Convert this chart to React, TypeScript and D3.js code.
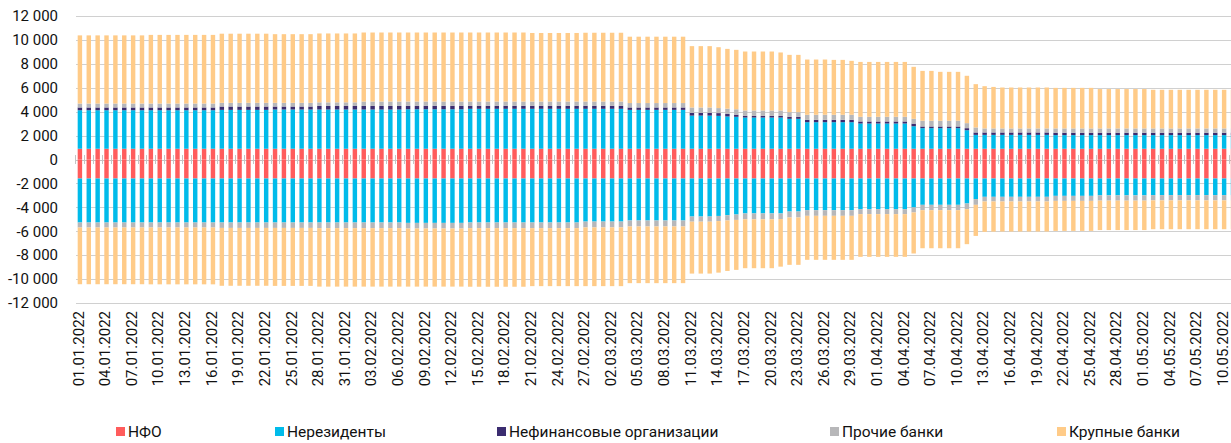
import React from "react";
import * as d3 from "d3";

const W = 1231;
const H = 443;

// Categories: one bar per day, 01.01.2022 - 11.05.2022
const categories: string[] = d3
  .timeDay.range(new Date(2022, 0, 1), new Date(2022, 4, 12))
  .map(d3.timeFormat("%d.%m.%Y"));

const seriesNames = ["НФО", "Нерезиденты", "Нефинансовые организации", "Прочие банки", "Крупные банки"];
const seriesColors = ["#ff5c5c", "#00bbea", "#3b2c70", "#b7b7b9", "#ffcb88"];

const yTicks = [-12000, -10000, -8000, -6000, -4000, -2000, 0, 2000, 4000, 6000, 8000, 10000, 12000];

// ---- positive side ----
const nfoPos = [
  900, 900, 900, 900, 900, 900, 900, 900, 900, 900,
  900, 900, 900, 900, 900, 900, 900, 900, 900, 900,
  900, 900, 900, 900, 900, 900, 900, 900, 900, 900,
  900, 900, 900, 900, 900, 900, 900, 900, 900, 900,
  900, 900, 900, 900, 900, 900, 900, 900, 900, 900,
  900, 900, 900, 900, 900, 900, 900, 900, 900, 900,
  900, 900, 900, 900, 900, 900, 900, 900, 900, 900,
  900, 900, 900, 900, 900, 900, 900, 900, 900, 900,
  900, 900, 900, 900, 900, 900, 900, 900, 900, 900,
  900, 900, 900, 900, 900, 900, 900, 900, 900, 900,
  900, 900, 900, 900, 900, 900, 900, 900, 900, 900,
  900, 900, 900, 900, 900, 900, 900, 900, 900, 900,
  900, 900, 900, 900, 900, 900, 900, 900, 900, 900,
  900,
];

const nerezPos = [
  3220, 3220, 3220, 3220, 3220, 3220, 3220, 3220,
  3220, 3220, 3220, 3220, 3220, 3220, 3220, 3220,
  3250, 3250, 3250, 3250, 3250, 3250,
  3280, 3280, 3280, 3280, 3280,
  3280, 3280, 3280, 3280, 3280,
  3280, 3280, 3280, 3280, 3280,
  3300, 3300, 3300, 3300, 3300, 3300, 3300,
  3340, 3340, 3340, 3340, 3340, 3340, 3340,
  3340, 3340, 3340, 3340, 3340, 3340,
  3340, 3340, 3340, 3340, 3340,
  3250, 3250, 3250, 3250, 3250, 3250, 3250,
  2770, 2770, 2770,
  2750,
  2700,
  2670,
  2610, 2610, 2610, 2610,
  2610,
  2500, 2500,
  2220, 2220, 2220,
  2220, 2220,
  2220,
  2110, 2110, 2110, 2110, 2110, 2110,
  1880,
  1720, 1720,
  1720, 1720, 1720,
  1550,
  1160,
  1160,
  1160,
  1160, 1160, 1160, 1160, 1160, 1160,
  1140, 1140, 1140, 1140, 1140,
  1140, 1140, 1140, 1140, 1140, 1140,
  1140, 1140, 1140, 1140, 1140, 1140, 1140, 1140, 1140, 1140,
];

const nefinPos = [
  230, 230, 230, 230, 230, 230, 230, 230,
  230, 230, 230, 230, 230, 230, 230, 230,
  280, 280, 280, 280, 280, 280,
  250, 250, 250, 250, 250,
  300, 300, 300, 300, 300,
  300, 300, 300, 300, 300,
  290, 290, 290, 290, 290, 290, 290,
  250, 250, 250, 250, 250, 250, 250,
  250, 250, 250, 250, 250, 250,
  250, 250, 250, 250, 250,
  200, 200, 200, 200, 200, 200, 200,
  230, 230, 230,
  230,
  220,
  180,
  140, 140, 140, 140,
  140,
  170, 170,
  200, 200, 200,
  200, 200,
  200,
  170, 170, 170, 170, 170, 170,
  220,
  140, 140,
  140, 140, 140,
  170,
  200,
  200,
  200,
  200, 200, 200, 200, 200, 200,
  200, 200, 200, 200, 200,
  200, 200, 200, 200, 200, 200,
  200, 200, 200, 200, 200, 200, 200, 200, 200, 200,
];

const prochiePos = [
  330, 330, 330, 330, 330, 330, 330, 330,
  330, 330, 330, 330, 330, 330, 330, 330,
  310, 310, 310, 310, 310, 310,
  310, 310, 310, 310, 310,
  300, 300, 300, 300, 300,
  370, 370, 370, 370, 370,
  360, 360, 360, 360, 360, 360, 360,
  360, 360, 360, 360, 360, 360, 360,
  360, 360, 360, 360, 360, 360,
  360, 360, 360, 360, 360,
  370, 370, 370, 370, 370, 370, 370,
  450, 450, 450,
  420,
  430,
  450,
  450, 450, 450, 450,
  450,
  390, 390,
  420, 420, 420,
  420, 420,
  420,
  390, 390, 390, 390, 390, 390,
  400,
  480, 480,
  480, 480, 480,
  420,
  420,
  340,
  340,
  340, 340, 340, 340, 340, 340,
  360, 360, 360, 360, 360,
  360, 360, 360, 360, 360, 360,
  360, 360, 360, 360, 360, 360, 360, 360, 360, 360,
];

const krupPos = [
  5700, 5700, 5700, 5700, 5700, 5700, 5700, 5700,
  5740, 5740, 5740, 5740, 5740, 5740, 5740, 5740,
  5780, 5780, 5780, 5780, 5780, 5780,
  5740, 5740, 5740, 5740, 5740,
  5760, 5760, 5760, 5760, 5760,
  5770, 5770, 5770, 5770, 5770,
  5770, 5770, 5770, 5770, 5770, 5770, 5770,
  5770, 5770, 5770, 5770, 5770, 5770, 5770,
  5730, 5730, 5730, 5730, 5730, 5730,
  5750, 5750, 5750, 5750, 5750,
  5550, 5550, 5550, 5550, 5550, 5550, 5550,
  5130, 5130, 5130,
  5090,
  5000,
  4970,
  4930, 4930, 4930, 4930,
  4850,
  4790, 4790,
  4620, 4620, 4620,
  4590, 4590,
  4510,
  4590, 4590, 4590, 4590, 4590, 4590,
  4350,
  4170, 4170,
  4090, 4090, 4090,
  3960,
  3620,
  3530,
  3470,
  3420, 3420, 3420, 3420, 3420, 3420,
  3390, 3390, 3390, 3390, 3390,
  3290, 3290, 3290, 3290, 3290, 3290,
  3230, 3230, 3230, 3230, 3230, 3230, 3230, 3230, 3230, 3230,
];

// ---- negative side ----
const nfoNeg = [
  -1590, -1590, -1590, -1590, -1590, -1590, -1590, -1590, -1590, -1590,
  -1590, -1590, -1590, -1590, -1590, -1590, -1590, -1590, -1590, -1590,
  -1590, -1590, -1590, -1590, -1590, -1590, -1590, -1590, -1590, -1590,
  -1590, -1590, -1590, -1590, -1590, -1590, -1590, -1590, -1590, -1590,
  -1590, -1590, -1590, -1590, -1590, -1590, -1590, -1590, -1590, -1590,
  -1590, -1590, -1590, -1590, -1590, -1590, -1590, -1590, -1590, -1590,
  -1590, -1590, -1590, -1590, -1590, -1590, -1590, -1590, -1590, -1590,
  -1590, -1590, -1590, -1590, -1590, -1590, -1590, -1590, -1590, -1590,
  -1590, -1590, -1590, -1590, -1590, -1590, -1590, -1590, -1590, -1590,
  -1590, -1590, -1590, -1590, -1590, -1590, -1590, -1590, -1590, -1590,
  -1590, -1590, -1590, -1590, -1590, -1590, -1590, -1590, -1590, -1590,
  -1590, -1590, -1590, -1590, -1590, -1590, -1590, -1590, -1590, -1590,
  -1590, -1590, -1590, -1590, -1590, -1590, -1590, -1590, -1590, -1590,
  -1590,
];

const nerezNeg = [
  -3680, -3680, -3680, -3680, -3680, -3680, -3680, -3680,
  -3680, -3680, -3680, -3680, -3680, -3680, -3680, -3680,
  -3680, -3680, -3680, -3680, -3680, -3680,
  -3680, -3680, -3680, -3680, -3680,
  -3680, -3680, -3680, -3680, -3680,
  -3680, -3680, -3680, -3680, -3680,
  -3710, -3710, -3710, -3710, -3710, -3710, -3710,
  -3680, -3680, -3680, -3680, -3680, -3680, -3680,
  -3680, -3680, -3680, -3680, -3680, -3680,
  -3600, -3600, -3600, -3600, -3600,
  -3510, -3510, -3510, -3510, -3510, -3510, -3510,
  -3180, -3180, -3180,
  -3130,
  -3070,
  -3010,
  -2920, -2920, -2920, -2920,
  -2920,
  -2760, -2760,
  -2650, -2650, -2650,
  -2650, -2650,
  -2650,
  -2560, -2560, -2560, -2560, -2560, -2560,
  -2420,
  -2200, -2200,
  -2200, -2200, -2200,
  -2090,
  -1720,
  -1530,
  -1530,
  -1530, -1530, -1530, -1530, -1530, -1530,
  -1450, -1450, -1450, -1450, -1450,
  -1410, -1410, -1410, -1410, -1410, -1410,
  -1390, -1390, -1390, -1390, -1390, -1390, -1390, -1390, -1390, -1390,
];

const nefinNeg = [
  0, 0, 0, 0, 0, 0, 0, 0, 0, 0, 0, 0, 0, 0, 0, 0, 0, 0, 0, 0,
  0, 0, 0, 0, 0, 0, 0, 0, 0, 0, 0, 0, 0, 0, 0, 0, 0, 0, 0, 0,
  0, 0, 0, 0, 0, 0, 0, 0, 0, 0, 0, 0, 0, 0, 0, 0, 0, 0, 0, 0,
  0, 0, 0, 0, 0, 0, 0, 0, 0, 0, 0, 0, 0, 0, 0, 0, 0, 0, 0, 0,
  0, 0, 0, 0, 0, 0, 0, 0, 0, 0, 0, 0, 0, 0, 0, 0, 0, 0, 0, 0,
  0, 0, 0, 0, 0, 0, 0, 0, 0, 0, 0, 0, 0, 0, 0, 0, 0, 0, 0, 0,
  0, 0, 0, 0, 0, 0, 0, 0, 0, 0, 0,
];

const prochieNeg = [
  -420, -420, -420, -420, -420, -420, -420, -420,
  -420, -420, -420, -420, -420, -420, -420, -420,
  -450, -450, -450, -450, -450, -450,
  -450, -450, -450, -450, -450,
  -470, -470, -470, -470, -470,
  -470, -470, -470, -470, -470,
  -470, -470, -470, -470, -470, -470, -470,
  -470, -470, -470, -470, -470, -470, -470,
  -470, -470, -470, -470, -470, -470,
  -490, -490, -490, -490, -490,
  -500, -500, -500, -500, -500, -500, -500,
  -430, -430, -430,
  -430,
  -440,
  -450,
  -490, -490, -490, -490,
  -470,
  -500, -500,
  -470, -470, -470,
  -470, -470,
  -470,
  -420, -420, -420, -420, -420, -420,
  -420,
  -450, -450,
  -450, -450, -450,
  -470,
  -480,
  -390,
  -390,
  -390, -390, -390, -390, -390, -390,
  -420, -420, -420, -420, -420,
  -440, -440, -440, -440, -440, -440,
  -440, -440, -440, -440, -440, -440, -440, -440, -440, -440,
];

const krupNeg = [
  -4740, -4740, -4740, -4740, -4740, -4740, -4740, -4740,
  -4750, -4750, -4750, -4750, -4750, -4750, -4750, -4750,
  -4840, -4840, -4840, -4840, -4840, -4840,
  -4850, -4850, -4850, -4850, -4850,
  -4890, -4890, -4890, -4890, -4890,
  -4890, -4890, -4890, -4890, -4890,
  -4860, -4860, -4860, -4860, -4860, -4860, -4860,
  -4900, -4900, -4900, -4900, -4900, -4900, -4900,
  -4850, -4850, -4850, -4850, -4850, -4850,
  -4910, -4910, -4910, -4910, -4910,
  -4740, -4740, -4740, -4740, -4740, -4740, -4740,
  -4340, -4340, -4340,
  -4310,
  -4220,
  -4180,
  -4090, -4090, -4090, -4090,
  -3980,
  -3960, -3960,
  -3680, -3680, -3680,
  -3680, -3680,
  -3680,
  -3570, -3570, -3570, -3570, -3570, -3570,
  -3430,
  -3180, -3180,
  -3180, -3180, -3180,
  -2930,
  -2600,
  -2540,
  -2520,
  -2510, -2510, -2510, -2510, -2510, -2510,
  -2510, -2510, -2510, -2510, -2510,
  -2460, -2460, -2460, -2460, -2460, -2460,
  -2410, -2410, -2410, -2410, -2410, -2410, -2410, -2410, -2410, -2410,
];

const posSeries = [nfoPos, nerezPos, nefinPos, prochiePos, krupPos];
const negSeries = [nfoNeg, nerezNeg, nefinNeg, prochieNeg, krupNeg];

const FONT = "Roboto, 'Noto Sans', sans-serif";

function fmt(v: number): string {
  return d3.format(",")(v).replace(/,/g, " ").replace("−", "-");
}

export default function App() {
  const keys = seriesNames.map((_, i) => String(i));
  const rowsPos = categories.map((c, j) => {
    const r: any = { cat: c };
    posSeries.forEach((s, i) => (r[String(i)] = s[j]));
    return r;
  });
  const rowsNeg = categories.map((c, j) => {
    const r: any = { cat: c };
    negSeries.forEach((s, i) => (r[String(i)] = s[j]));
    return r;
  });
  const stack = d3.stack<any>().keys(keys).offset(d3.stackOffsetDiverging);
  const stPos = stack(rowsPos);
  const stNeg = stack(rowsNeg);

  const x = d3
    .scaleBand<string>()
    .domain(categories)
    .range([76, 1236.9])
    .paddingInner(0.5)
    .paddingOuter(0.19);
  const y = d3.scaleLinear().domain([-12000, 12000]).range([303, 16]);

  const step = x.step();
  const bw = x.bandwidth();
  const plotLeft = 76;
  const plotRight = W;

  const legendX = [116, 275, 497, 830, 1057];

  return (
    <div style={{ position: "absolute", left: 0, top: 0 }}>
      <svg width={W} height={H} style={{ display: "block", background: "#fff" }}>
        {/* gridlines */}
        {yTicks.map((t) => (
          <line
            key={"g" + t}
            x1={plotLeft}
            x2={plotRight}
            y1={Math.round(y(t)) + 0.5}
            y2={Math.round(y(t)) + 0.5}
            stroke="#d0d0d0"
            strokeWidth={1}
          />
        ))}
        {/* zero axis with tick marks */}
        <line x1={plotLeft} x2={plotRight} y1={Math.round(y(0)) + 0.5} y2={Math.round(y(0)) + 0.5} stroke="#c4c4c4" />
        {categories.map((c, i) => {
          const bx = Math.round((x(c) as number) - (step - bw) / 2) + 0.5;
          return (
            <line key={"t" + i} x1={bx} x2={bx} y1={y(0) - 4.5} y2={y(0) + 4.5} stroke="#c4c4c4" />
          );
        })}
        {/* bars */}
        {[stPos, stNeg].map((st, si) =>
          st.map((layer, li) => (
            <g key={si + "-" + li} fill={seriesColors[li]}>
              {layer.map((d, j) => {
                const y0 = y(d[0]);
                const y1 = y(d[1]);
                const top = Math.min(y0, y1);
                const h = Math.abs(y1 - y0);
                if (h <= 0) return null;
                return (
                  <rect key={j} x={x(d.data.cat) as number} y={top} width={bw} height={h} />
                );
              })}
            </g>
          ))
        )}
        {/* y axis labels */}
        {yTicks.map((t) => (
          <text
            key={"yl" + t}
            x={58}
            y={y(t)}
            dy="0.35em"
            textAnchor="end"
            fontFamily={FONT}
            fontSize={15}
            fill="#111"
          >
            {fmt(t)}
          </text>
        ))}
        {/* x axis labels */}
        {categories.map((c, i) =>
          i % 3 === 0 && i <= 129 ? (
            <text
              key={"xl" + i}
              transform={`translate(${(x(c) as number) + bw / 2 - 1.5},311) rotate(-90)`}
              dy="0.35em"
              textAnchor="end"
              fontFamily={FONT}
              fontSize={15}
              fill="#111"
            >
              {c}
            </text>
          ) : null
        )}
        {/* legend */}
        {seriesNames.map((n, i) => (
          <g key={"lg" + i}>
            <rect x={legendX[i]} y={427} width={9} height={9} fill={seriesColors[i]} />
            <text x={legendX[i] + 12} y={432} dy="0.35em" fontFamily={FONT} fontSize={15.5} fill="#111">
              {n}
            </text>
          </g>
        ))}
      </svg>
    </div>
  );
}
